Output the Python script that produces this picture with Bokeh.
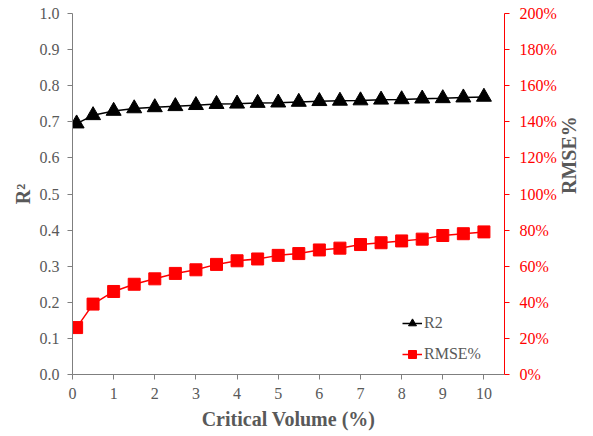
import math
from bokeh.plotting import figure
from bokeh.models import (Range1d, LinearAxis, FixedTicker, NumeralTickFormatter,
                          Legend, LegendItem)
from bokeh.embed import file_html
from bokeh.resources import INLINE

# Data
critical_volume = [0.1, 0.5, 1, 1.5, 2, 2.5, 3, 3.5, 4, 4.5, 5,
                   5.5, 6, 6.5, 7, 7.5, 8, 8.5, 9, 9.5, 10]
r2 = [0.695, 0.718, 0.730, 0.737, 0.740, 0.743, 0.746, 0.749, 0.750, 0.752, 0.753,
      0.755, 0.757, 0.758, 0.759, 0.761, 0.762, 0.764, 0.765, 0.767, 0.769]
rmse_pct = [0.26, 0.39, 0.46, 0.50, 0.53, 0.56, 0.58, 0.61, 0.63, 0.64, 0.66,
            0.67, 0.69, 0.70, 0.72, 0.73, 0.74, 0.75, 0.77, 0.78, 0.79]
x_ticks = [0, 1, 2, 3, 4, 5, 6, 7, 8, 9, 10]
left_ticks = [0.0, 0.1, 0.2, 0.3, 0.4, 0.5, 0.6, 0.7, 0.8, 0.9, 1.0]
right_ticks = [0.0, 0.2, 0.4, 0.6, 0.8, 1.0, 1.2, 1.4, 1.6, 1.8, 2.0]

FONT = "Liberation Serif"
GRAY = "#595959"
AXGRAY = "#7f7f7f"
RED = "#ff0000"

p = figure(width=593, height=436, output_backend="svg", toolbar_location=None,
           x_range=Range1d(0, 10.5), y_range=Range1d(0, 1.0),
           min_border_left=72, min_border_right=85, min_border_top=13,
           min_border_bottom=62)
p.outline_line_color = None
p.xgrid.grid_line_color = None
p.ygrid.grid_line_color = None
p.background_fill_color = "white"
p.border_fill_color = "white"

p.extra_y_ranges = {"rmse": Range1d(0, 2.0)}

# Lines and markers
l1 = p.line(critical_volume, r2, line_color="black", line_width=1.5)
s1 = p.scatter(critical_volume, r2, marker="triangle", size=15,
               fill_color="black", line_color="black")
l2 = p.line(critical_volume, rmse_pct, y_range_name="rmse", line_color=RED, line_width=1.5)
s2 = p.scatter(critical_volume, rmse_pct, y_range_name="rmse", marker="square", size=12,
               fill_color=RED, line_color=RED)


def style_axis(ax, label, label_standoff, label_color, tick_color, line_color, standoff):
    ax.axis_label = label
    ax.axis_label_text_font = FONT
    ax.axis_label_text_font_style = "bold"
    ax.axis_label_text_font_size = "20px"
    ax.axis_label_text_color = GRAY
    ax.axis_label_standoff = label_standoff
    ax.major_label_text_font = FONT
    ax.major_label_text_font_style = "normal"
    ax.major_label_text_font_size = "16px"
    ax.major_label_text_color = label_color
    ax.major_label_standoff = standoff
    ax.axis_line_color = line_color
    ax.major_tick_line_color = tick_color
    ax.major_tick_out = 5
    ax.major_tick_in = 0
    ax.minor_tick_line_color = None


# Bottom axis
xa = p.xaxis[0]
xa.ticker = FixedTicker(ticks=x_ticks)
style_axis(xa, "Critical Volume (%)", 6, GRAY, AXGRAY, AXGRAY, 8)

# Left axis
ya = p.yaxis[0]
ya.ticker = FixedTicker(ticks=left_ticks)
ya.formatter = NumeralTickFormatter(format="0.0")
style_axis(ya, "R²", 3, GRAY, AXGRAY, AXGRAY, 8)

# Right axis (label reads bottom-to-top)
ra = LinearAxis(y_range_name="rmse", ticker=FixedTicker(ticks=right_ticks),
                formatter=NumeralTickFormatter(format="0%"))
style_axis(ra, "RMSE%", 9, RED, RED, RED, 10)
ra.axis_label_orientation = math.pi / 2
p.add_layout(ra, "right")

legend = Legend(items=[LegendItem(label="R2", renderers=[l1, s1]),
                       LegendItem(label="RMSE%", renderers=[l2, s2])],
                location=(330, 10))
legend.border_line_color = None
legend.background_fill_alpha = 0
legend.label_text_font = FONT
legend.label_text_font_size = "16px"
legend.label_text_color = GRAY
legend.glyph_width = 20
legend.glyph_height = 20
legend.label_height = 20
legend.label_standoff = 2
legend.spacing = 11
legend.padding = 0
legend.margin = 0
p.add_layout(legend, "center")

open("out.html", "w").write(file_html(p, INLINE))
